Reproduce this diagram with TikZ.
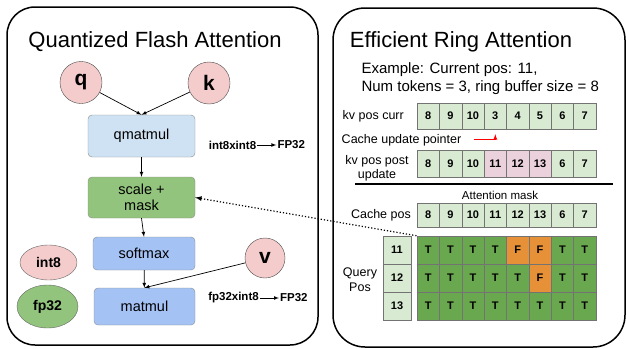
\documentclass[tikz,border=0pt]{standalone}
\usepackage{fontspec}
\setmainfont{Liberation Sans}
\usetikzlibrary{shapes.geometric,positioning}
\definecolor{tpink}{HTML}{F4CCCC}
\definecolor{qblue}{HTML}{CFE2F3}
\definecolor{opblue}{HTML}{A4C2F4}
\definecolor{sgreen}{HTML}{93C47D}
\definecolor{lgreen}{HTML}{D9EAD3}
\definecolor{kvpink}{HTML}{EAD1DC}
\definecolor{mgreen}{HTML}{6AA84F}
\definecolor{morange}{HTML}{E69138}
\tikzset{
  opbox/.style={rectangle, rounded corners=4pt, draw=black!45, inner sep=0pt, align=center, font=\fontsize{14.5}{16}\selectfont},
  tensor/.style={circle, draw=black!70, fill=tpink, minimum size=42pt, inner sep=0pt, font=\fontsize{21}{22}\selectfont\bfseries},
  dtype/.style={ellipse, draw=black!60, inner sep=0pt, font=\fontsize{14}{16}\selectfont\bfseries},
  note/.style={inner sep=1pt, font=\fontsize{11.5}{13}\selectfont\bfseries},
  cell/.style={rectangle, draw=black!55, minimum width=22.4pt, inner sep=0pt, font=\fontsize{11}{12}\selectfont\bfseries},
  mask T/.style={fill=mgreen},
  mask F/.style={fill=morange},
  lbl/.style={inner sep=1pt, font=\fontsize{12.5}{14}\selectfont}
}
\begin{document}
\begin{tikzpicture}[x=1pt,y=-1pt,>=latex]
  \useasboundingbox (0,0) rectangle (626,348);
  \draw[line width=1.5pt, rounded corners=28pt] (7,7) rectangle (318,345);
  \draw[line width=1.5pt, rounded corners=32pt] (333,8) rectangle (625,347);
  \node[font=\fontsize{22}{24}\selectfont] (ltitle) at (155,42) {Quantized Flash Attention};
  \node[font=\fontsize{22}{24}\selectfont] (rtitle) at (461,42) {Efficient Ring Attention};
  \node[tensor] (q) at (81,82.5) {q};
  \node[tensor] (k) at (209,83) {k};
  \node[tensor, minimum size=40pt] (v) at (265,258) {v};
  \node[opbox, fill=qblue, minimum width=107pt, minimum height=42pt] (qmatmul) at (141.5,136) {qmatmul};
  \node[opbox, fill=sgreen, minimum width=107pt, minimum height=41pt] (scale) at (141.5,197.5) {scale +\\mask};
  \node[opbox, fill=opblue, minimum width=102pt, minimum height=33pt] (softmax) at (144,253.5) {softmax};
  \node[opbox, fill=opblue, minimum width=101pt, minimum height=37pt] (matmul) at (144.5,306.5) {matmul};
  \node[dtype, fill=tpink, minimum width=57pt, minimum height=35pt] (int8) at (48.5,262.5) {int8};
  \node[dtype, fill=sgreen, minimum width=61pt, minimum height=43pt] (fp32) at (47.5,306.5) {fp32};
  \node[note] (qin) at (232.5,145) {int8xint8};
  \node[note, right=19pt of qin] (qout) {FP32};
  \node[note] (min) at (233.5,298) {fp32xint8};
  \node[note, right=19pt of min] (mout) {FP32};
  \draw[->, line width=0.7pt] (q) -- (qmatmul.north);
  \draw[->, line width=0.7pt] (k) -- (qmatmul.north);
  \draw[->, line width=0.7pt] (qmatmul) -- (scale);
  \draw[->, line width=0.7pt] (scale.south) -- (softmax.north);
  \draw[->, line width=0.7pt] (softmax) -- (matmul);
  \draw[->, line width=0.7pt] (v) -- (matmul.north);
  \draw[->, line width=0.7pt] (qin) -- (qout);
  \draw[->, line width=0.7pt] (min) -- (mout);
  \node[anchor=west, align=left, font=\fontsize{15}{18}\selectfont] (example) at (358,79) {Example: Current pos: 11,\\Num tokens = 3, ring buffer size = 8};
  \node[lbl, anchor=east] (currlbl) at (405,116) {kv pos curr};
  \node[lbl] (ptrlbl) at (401.5,140) {Cache update pointer};
  \node[lbl, align=center, font=\fontsize{12.5}{14}\selectfont] (postlbl) at (377,168.5) {kv pos post\\update};
  \node[font=\fontsize{11.5}{13}\selectfont] (masklbl) at (500,195) {Attention mask};
  \node[lbl, anchor=east] (cachelbl) at (412,215) {Cache pos};
  \node[lbl, align=center, font=\fontsize{12.5}{15}\selectfont] (querylbl) at (360,279.5) {Query\\Pos};
  \foreach \v [count=\i] in {8,9,10,3,4,5,6,7}
    \node[cell, fill=lgreen, minimum height=26pt] (curr-\i) at ({405.8+22.375*\i},116) {\v};
  \foreach \v/\c [count=\i] in {8/lgreen,9/lgreen,10/lgreen,11/kvpink,12/kvpink,13/kvpink,6/lgreen,7/lgreen}
    \node[cell, fill=\c, minimum height=27pt] (post-\i) at ({405.8+22.375*\i},163.5) {\v};
  \foreach \v [count=\i] in {8,9,10,11,12,13,6,7}
    \node[cell, fill=lgreen, minimum height=24pt] (cache-\i) at ({405.8+22.375*\i},215) {\v};
  \foreach \v [count=\r] in {11,12,13}
    \node[cell, fill=lgreen, minimum width=28pt, minimum height=28pt] (query-\r) at (397,{222+28*\r}) {\v};
  \foreach \r/\vals in {1/{T,T,T,T,F,F,T,T},2/{T,T,T,T,T,F,T,T},3/{T,T,T,T,T,T,T,T}}
    \foreach \m [count=\c] in \vals
      \node[cell, mask \m, minimum height=28pt] (mask-\r-\c) at ({405.8+22.375*\c},{222+28*\r}) {\m};
  \coordinate (ptr) at (474,139);
  \draw[->, red, line width=0.9pt] (ptr) -| ([yshift=-5pt]curr-4.south);
  \draw[line width=1.2pt] (355,184) -- (613,184);
  \draw[<-, dotted, line width=1.2pt] (scale.east) -- (mask-1-1.north west);
\end{tikzpicture}
\end{document}
